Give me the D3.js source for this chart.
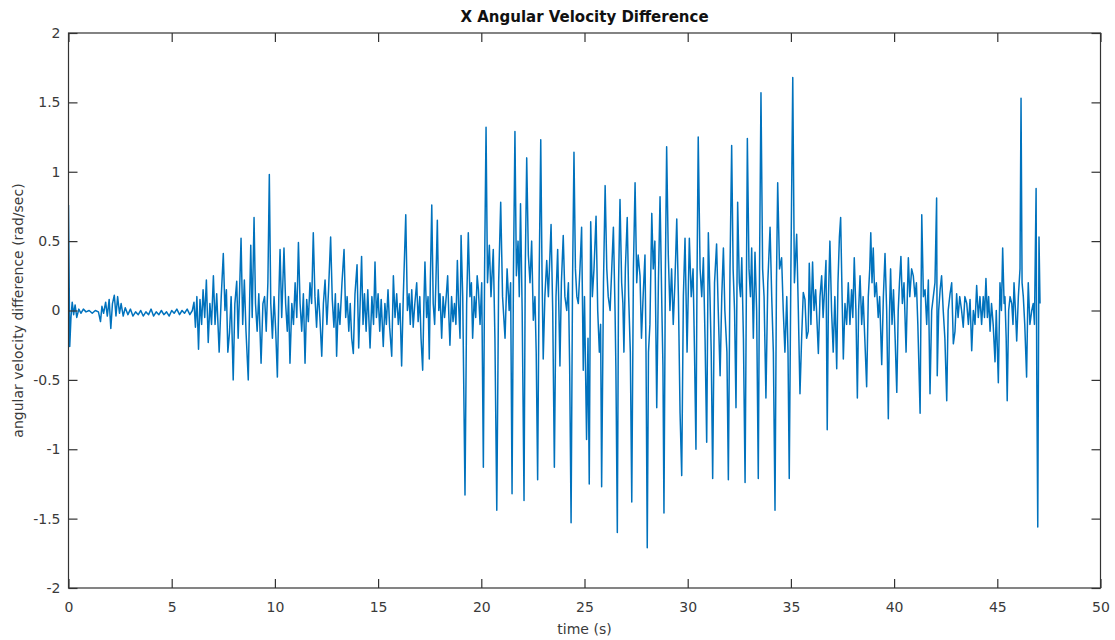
<!DOCTYPE html>
<html>
<head>
<meta charset="utf-8">
<script src="https://cdn.jsdelivr.net/npm/d3@7"></script>
<style>
  body { margin: 0; background: #fff; }
  text { font-family: "DejaVu Sans", "Liberation Sans", sans-serif; }
</style>
</head>
<body>
<div id="chart"></div>
<script>
// X angular velocity difference [time s, rad/sec]

var calm = [
  [0,0.76],[0.06,-0.26],[0.12,-0.05],[0.18,0.06],[0.25,-0.03],[0.32,0.04],[0.4,-0.05],[0.5,0.01],
  [0.6,-0.02],[0.72,0.01],[0.85,-0.01],[1.0,0.0],[1.15,-0.02],[1.3,0.0],[1.45,-0.01],[1.55,-0.08],
  [1.62,0.03],[1.7,-0.02],[1.8,0.06],[1.88,-0.04],[1.97,0.08],[2.05,-0.13],[2.13,0.05],[2.22,0.11],
  [2.3,-0.04],[2.38,0.1],[2.47,-0.02],[2.55,0.05],[2.65,-0.04],[2.75,0.02],[2.88,-0.03],[3.0,0.01],
  [3.12,-0.04],[3.25,-0.01],[3.38,-0.03],[3.5,0.0],[3.62,-0.04],[3.75,-0.01],[3.88,-0.03],[4.0,0.01],
  [4.12,-0.04],[4.25,-0.01],[4.38,-0.03],[4.5,0.0],[4.62,-0.03],[4.75,-0.01],[4.88,-0.04],[5.0,0.0],
  [5.12,-0.02],[5.25,0.01],[5.38,-0.03],[5.5,0.0],[5.62,-0.02],[5.75,0.01],[5.88,-0.03],[6.0,0.0]
];

var onset = [
  [6.08,0.06],[6.15,-0.12],[6.22,0.1],[6.3,-0.28],[6.37,0.08],[6.45,-0.1],[6.52,0.15],[6.6,-0.05],
  [6.68,0.22],[6.77,-0.23],[6.85,0.05],[6.93,-0.1],[7.02,0.25],[7.1,-0.1],[7.18,0.12],[7.3,-0.3],
  [7.4,0.1],[7.5,0.41],[7.58,0.0],[7.65,0.15],[7.72,-0.3],[7.8,-0.16],[7.88,0.1],[7.98,-0.5],
  [8.06,0.05],[8.15,0.21],[8.22,-0.2],[8.29,0.15],[8.36,0.52],[8.44,-0.1],[8.52,0.22],[8.6,-0.15],
  [8.71,-0.5],[8.78,0.1],[8.83,0.47],[8.9,-0.05],[8.99,0.67],[9.06,0.05],[9.14,-0.15],[9.22,0.12],
  [9.33,-0.38],[9.42,0.05],[9.5,0.1],[9.58,-0.15],[9.66,0.2],[9.73,0.98],[9.8,0.05],[9.88,-0.2],
  [9.96,0.1],[10.04,-0.15],[10.12,-0.48],[10.19,0.1],[10.25,0.44],[10.33,-0.05],[10.44,0.45],[10.52,0.05],
  [10.6,-0.15],[10.66,0.1],[10.73,-0.38],[10.82,0.05],[10.9,-0.1],[10.98,0.2],[11.06,-0.05],[11.14,0.49],
  [11.22,0.05],[11.3,-0.15],[11.38,0.12],[11.46,-0.38],[11.54,0.08],[11.62,-0.08],[11.7,0.2],[11.78,0.05],
  [11.86,0.56],[11.94,0.1],[12.02,-0.12],[12.1,0.15],[12.18,-0.05],[12.27,-0.33],[12.35,0.05],[12.43,0.22],
  [12.52,-0.1],[12.6,0.15],[12.7,0.53],[12.78,0.08],[12.86,-0.12],[12.93,0.12],[12.99,-0.33],[13.07,0.05],
  [13.15,-0.1],[13.25,0.2],[13.35,0.44],[13.43,-0.05],[13.5,0.1],[13.58,-0.15],[13.65,0.05],[13.72,-0.2],
  [13.8,-0.31],[13.88,0.12],[13.98,0.33],[14.06,-0.27],[14.13,0.05],[14.2,0.39],[14.27,-0.1],[14.34,0.12],
  [14.42,-0.15],[14.5,0.15],[14.55,-0.05],[14.61,-0.27],[14.7,0.1],[14.78,-0.1],[14.85,0.35],[14.92,-0.05],
  [15.0,0.12],[15.08,-0.15],[15.15,0.08],[15.25,-0.26],[15.33,0.05],[15.4,-0.1],[15.48,0.15],[15.56,-0.12],
  [15.66,-0.33],[15.74,0.25],[15.82,-0.05],[15.9,0.12],[15.98,-0.1],[16.06,0.05],[16.14,-0.4],[16.22,0.1],
  [16.34,0.69],[16.42,0.0],[16.5,0.12],[16.56,-0.1],[16.63,0.15],[16.7,-0.12],[16.78,0.05],[16.87,0.2],
  [16.94,-0.08],[17.02,0.1],[17.08,-0.2],[17.16,-0.43],[17.22,0.05],[17.27,0.35],[17.35,-0.05],[17.42,0.1],
  [17.48,-0.35],[17.53,0.2],[17.6,0.76],[17.67,0.05],[17.74,-0.1],[17.8,0.2],[17.87,0.65],[17.94,0.0],
  [18.0,0.12],[18.08,-0.2],[18.15,0.1],[18.22,-0.05],[18.3,0.1],[18.37,0.25],[18.43,-0.05],[18.48,-0.25],
  [18.56,0.1],[18.63,-0.08],[18.7,0.05],[18.77,-0.1],[18.84,0.36],[18.9,0.05],[18.97,-0.2],[19.02,0.54]
];

var burst = [
  [19.1,0.1],[19.21,-1.33],[19.29,0.05],[19.37,0.56],[19.45,0.1],[19.52,0.2],[19.58,-0.2],[19.66,0.1],
  [19.73,-0.05],[19.8,0.25],[19.86,0.15],[19.94,-0.1],[20.02,0.2],[20.1,-1.13],[20.16,0.3],[20.23,1.32],
  [20.3,0.2],[20.39,0.47],[20.47,0.1],[20.58,0.44],[20.66,-0.2],[20.75,-1.44],[20.84,0.2],[20.94,0.78],
  [21.03,0.1],[21.15,-0.2],[21.25,0.3],[21.35,0.0],[21.42,0.2],[21.49,-1.32],[21.56,0.3],[21.63,1.29],
  [21.7,0.25],[21.78,0.5],[21.84,0.1],[21.9,0.77],[21.98,0.0],[22.07,-1.37],[22.13,0.3],[22.2,1.1],
  [22.28,0.4],[22.36,0.2],[22.44,0.5],[22.52,-0.07],[22.6,0.1],[22.66,-0.3],[22.73,-1.22],[22.8,0.2],
  [22.88,1.23],[22.94,0.3],[23.0,-0.35],[23.08,0.1],[23.17,0.36],[23.25,0.1],[23.3,0.3],[23.38,0.62],
  [23.46,0.0],[23.54,-1.13],[23.62,0.1],[23.7,0.44],[23.76,0.0],[23.81,-0.4],[23.88,0.2],[23.97,0.54],
  [24.05,0.1],[24.14,0.0],[24.22,0.2],[24.28,-0.4],[24.35,-1.53],[24.42,0.2],[24.49,1.14],[24.56,0.3],
  [24.63,0.1],[24.7,0.05],[24.78,0.3],[24.86,0.6],[24.94,-0.43],[25.0,0.1],[25.1,-0.93],[25.17,-0.2],
  [25.23,-1.25],[25.3,0.64],[25.38,0.1],[25.46,0.3],[25.56,0.68],[25.64,0.0],[25.72,-0.3],[25.78,-0.1],
  [25.83,-1.27],[25.92,0.2],[26.0,0.9],[26.08,0.3],[26.15,0.1],[26.24,0.0],[26.32,0.3],[26.4,0.6],
  [26.48,0.0],[26.52,-0.4],[26.59,-1.6],[26.65,0.2],[26.72,0.8],[26.8,0.2],[26.86,0.05],[26.91,-0.3],
  [26.98,0.3],[27.07,0.67],[27.14,0.1],[27.22,-0.3],[27.29,-1.38],[27.37,0.3],[27.45,0.92],[27.53,0.2],
  [27.6,0.4],[27.69,0.25],[27.76,-0.2],[27.84,0.1],[27.93,0.4],[27.98,-0.3],[28.04,-1.71],[28.1,-0.3],
  [28.17,-0.1],[28.26,0.7],[28.33,0.3],[28.41,0.5],[28.5,-0.7],[28.58,0.2],[28.66,0.82],[28.75,0.0],
  [28.8,-0.4],[28.85,-1.46],[28.92,0.3],[28.98,1.18],[29.06,0.4],[29.14,0.0],[29.22,0.3],[29.3,-0.1],
  [29.38,0.2],[29.47,0.66],[29.55,0.1],[29.63,-0.74],[29.71,-1.19],[29.79,0.1],[29.87,0.52],[29.97,-0.3],
  [30.08,0.52],[30.17,0.1],[30.26,0.3],[30.33,-0.3],[30.4,-1.0],[30.45,0.2],[30.51,1.25],[30.6,0.3],
  [30.68,0.1],[30.76,0.38],[30.84,-0.2],[30.92,-0.95],[31.0,0.56],[31.08,0.1],[31.14,-0.3],[31.21,-1.21],
  [31.3,0.2],[31.4,0.48],[31.48,0.0],[31.57,-0.47],[31.65,0.1],[31.73,0.45],[31.8,0.0],[31.9,-0.3],
  [31.97,-1.22],[32.05,0.3],[32.13,1.19],[32.2,0.3],[32.27,0.0],[32.34,-0.7],[32.42,0.78],[32.5,0.2],
  [32.56,0.1],[32.62,0.38],[32.7,-0.2],[32.78,-1.24],[32.85,0.3],[32.89,1.24],[32.97,0.3],[33.04,0.1],
  [33.1,0.45],[33.18,-0.2],[33.26,0.42],[33.34,0.0],[33.42,-1.21],[33.48,0.3],[33.55,1.57],[33.63,0.3],
  [33.7,0.1],[33.79,-0.63],[33.88,0.2],[33.99,0.6],[34.07,0.1],[34.15,-0.3],[34.23,-1.44],[34.3,0.2],
  [34.36,0.92],[34.45,0.3],[34.55,0.38],[34.63,0.0],[34.71,-0.3],[34.8,0.1],[34.86,-0.3],[34.92,-1.21],
  [35.0,0.3],[35.09,1.68],[35.17,0.2],[35.28,0.55],[35.36,0.0],[35.44,-0.6],[35.52,-0.2],[35.6,0.13],
  [35.68,0.08],[35.76,-0.2],[35.84,-0.15],[35.89,0.34],[35.97,-0.1],[36.05,0.35]
];

var tail = [
  [36.12,0.0],[36.2,0.15],[36.27,-0.1],[36.33,-0.31],[36.41,0.1],[36.49,0.25],[36.56,-0.05],[36.63,0.15],
  [36.7,0.36],[36.76,-0.86],[36.82,0.1],[36.89,0.5],[36.97,0.0],[37.05,-0.3],[37.13,0.1],[37.22,-0.42],
  [37.28,0.2],[37.35,0.53],[37.41,0.67],[37.48,0.1],[37.54,-0.35],[37.62,0.05],[37.7,-0.1],[37.78,0.2],
  [37.86,-0.1],[37.94,0.15],[38.0,-0.05],[38.07,0.38],[38.15,0.0],[38.22,-0.63],[38.28,0.0],[38.35,0.25],
  [38.43,-0.1],[38.5,0.1],[38.58,-0.2],[38.67,-0.55],[38.75,0.1],[38.82,0.3],[38.87,0.56],[38.93,0.2],
  [38.99,0.45],[39.06,0.1],[39.14,0.2],[39.23,-0.05],[39.3,0.1],[39.4,-0.39],[39.48,0.1],[39.56,0.41],
  [39.64,0.0],[39.72,-0.78],[39.78,0.0],[39.83,0.3],[39.9,-0.1],[39.97,0.15],[40.05,-0.2],[40.13,-0.59],
  [40.2,0.0],[40.26,0.2],[40.33,0.39],[40.4,0.05],[40.48,0.2],[40.53,-0.05],[40.58,-0.3],[40.64,0.1],
  [40.69,0.38],[40.76,0.1],[40.85,0.3],[40.93,0.25],[41.01,0.1],[41.08,0.2],[41.15,-0.1],[41.26,-0.74],
  [41.3,0.0],[41.34,0.69],[41.42,0.1],[41.5,0.15],[41.58,-0.1],[41.66,0.22],[41.74,-0.6],[41.82,0.0],
  [41.9,0.1],[41.98,0.2],[42.06,0.81],[42.09,-0.47],[42.16,0.0],[42.23,0.15],[42.3,0.25],[42.38,0.0],
  [42.46,-0.2],[42.55,-0.65],[42.62,0.0],[42.71,0.12],[42.79,0.2],[42.87,-0.24],[42.95,-0.15],[43.03,0.12],
  [43.1,-0.05],[43.18,0.1],[43.27,0.0],[43.35,-0.12],[43.43,0.1],[43.52,0.05],[43.6,-0.1],[43.68,0.08],
  [43.76,-0.29],[43.84,0.0],[43.92,-0.1],[44.0,0.18],[44.08,-0.05],[44.16,0.1],[44.24,-0.1],[44.32,0.1],
  [44.38,-0.05],[44.45,0.23],[44.52,-0.05],[44.58,0.1],[44.65,-0.15],[44.72,0.05],[44.8,-0.1],[44.89,-0.37],
  [44.95,0.0],[45.05,-0.52],[45.13,0.2],[45.2,0.0],[45.26,0.45],[45.33,0.05],[45.37,0.1],[45.43,-0.2],
  [45.48,-0.65],[45.55,0.0],[45.62,0.1],[45.7,0.05],[45.76,-0.1],[45.81,0.2],[45.88,0.0],[45.94,-0.22],
  [46.02,0.1],[46.1,0.3],[46.15,1.53],[46.2,0.2],[46.26,0.1],[46.33,-0.1],[46.42,-0.48],[46.47,0.0],
  [46.5,0.2],[46.58,-0.1],[46.67,0.0],[46.74,0.05],[46.8,-0.1],[46.88,0.88],[46.91,-0.4],[46.96,-1.56],
  [47.02,0.53],[47.07,0.05]
];

var xTicks = [0, 5, 10, 15, 20, 25, 30, 35, 40, 45, 50];
var yTicks = [-2, -1.5, -1, -0.5, 0, 0.5, 1, 1.5, 2];

var titleText = 'X Angular Velocity Difference';
var xLabel = 'time (s)';
var yLabel = 'angular velocity difference (rad/sec)';

var samples = calm.concat(onset, burst, tail);

var W = 1115, H = 640;
var plotL = 68.5, plotR = 1100.5, plotT = 33, plotB = 588;
var tickLen = 9;

var svg = d3.select('#chart')
  .append('svg')
  .attr('width', W)
  .attr('height', H);

var x = d3.scaleLinear().domain([0, 50]).range([plotL, plotR]);
var y = d3.scaleLinear().domain([-2, 2]).range([plotB, plotT]);

svg.append('clipPath')
  .attr('id', 'plotclip')
  .append('rect')
  .attr('x', plotL).attr('y', plotT)
  .attr('width', plotR - plotL).attr('height', plotB - plotT);

// the signal
var line = d3.line()
  .x(function(d){ return x(d[0]); })
  .y(function(d){ return y(d[1]); });

svg.append('path')
  .datum(samples)
  .attr('clip-path', 'url(#plotclip)')
  .attr('fill', 'none')
  .attr('stroke', '#0072BD')
  .attr('stroke-width', 1.5)
  .attr('stroke-linejoin', 'round')
  .attr('d', line);

// axes, matlab style: ticks inside, box all round, plain hyphen for minus
function plainNum(d){ return String(d); }

function styleAxis(g){
  g.select('.domain').remove();
  g.selectAll('.tick line').attr('stroke', '#333').attr('stroke-width', 1.2);
  g.selectAll('.tick text')
    .style('font-family', '"DejaVu Sans", "Liberation Sans", sans-serif')
    .style('font-size', '14px')
    .attr('fill', '#3a3a3a');
}

svg.append('g')
  .attr('transform', 'translate(0,' + plotB + ')')
  .call(d3.axisBottom(x).tickValues(xTicks).tickSizeInner(-tickLen).tickSizeOuter(0).tickPadding(14).tickFormat(plainNum))
  .call(styleAxis);

svg.append('g')
  .attr('transform', 'translate(0,' + plotT + ')')
  .call(d3.axisTop(x).tickValues(xTicks).tickSizeInner(-tickLen).tickSizeOuter(0).tickFormat(''))
  .call(styleAxis);

svg.append('g')
  .attr('transform', 'translate(' + plotL + ',0)')
  .call(d3.axisLeft(y).tickValues(yTicks).tickSizeInner(-tickLen).tickSizeOuter(0).tickPadding(8).tickFormat(plainNum))
  .call(styleAxis);

svg.append('g')
  .attr('transform', 'translate(' + plotR + ',0)')
  .call(d3.axisRight(y).tickValues(yTicks).tickSizeInner(-tickLen).tickSizeOuter(0).tickFormat(''))
  .call(styleAxis);

svg.append('rect')
  .attr('x', plotL).attr('y', plotT)
  .attr('width', plotR - plotL).attr('height', plotB - plotT)
  .attr('fill', 'none')
  .attr('stroke', '#333')
  .attr('stroke-width', 1.2);

// labels
svg.append('text')
  .text(titleText)
  .attr('x', (plotL + plotR) / 2)
  .attr('y', 22)
  .attr('text-anchor', 'middle')
  .style('font-size', '15px')
  .style('font-weight', 'bold')
  .attr('fill', '#111');

svg.append('text')
  .text(xLabel)
  .attr('x', (plotL + plotR) / 2)
  .attr('y', 634)
  .attr('text-anchor', 'middle')
  .style('font-size', '14px')
  .attr('fill', '#3a3a3a');

svg.append('text')
  .text(yLabel)
  .attr('transform', 'translate(23,' + ((plotT + plotB) / 2) + ') rotate(-90)')
  .attr('text-anchor', 'middle')
  .style('font-size', '14px')
  .attr('fill', '#3a3a3a');
</script>
</body>
</html>
